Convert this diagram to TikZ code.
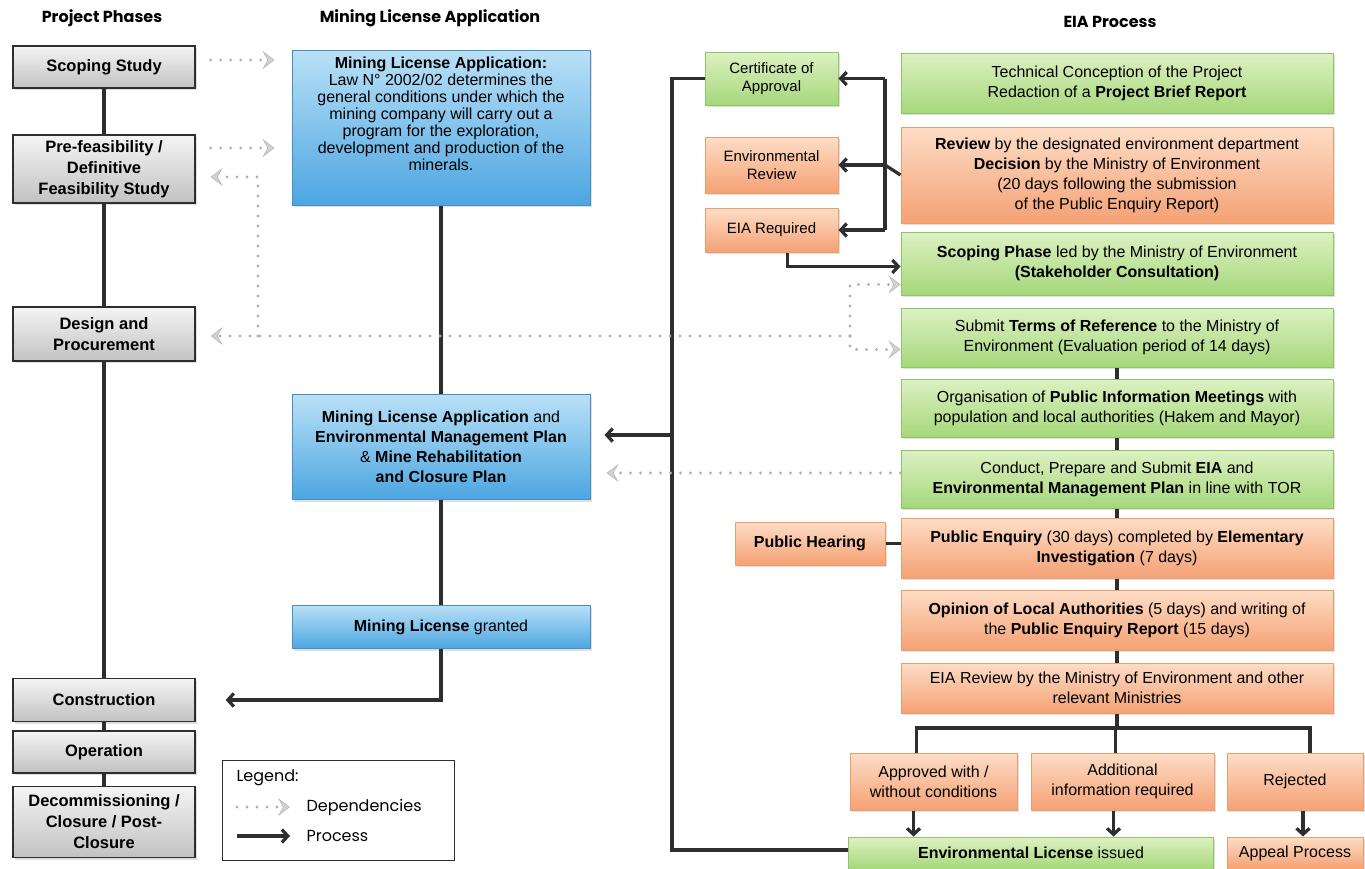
\documentclass[tikz,border=0pt]{standalone}
\usepackage{fontspec}
\setmainfont{Liberation Sans}
\newfontfamily\headfont{Poppins}
\usetikzlibrary{arrows.meta,shadows}
\definecolor{procgray}{HTML}{2E2E2E}
\definecolor{phasetop}{HTML}{F4F4F4}
\definecolor{phasebot}{HTML}{C2C2C2}
\definecolor{bluetop}{HTML}{B9E0F7}
\definecolor{bluebot}{HTML}{4CA6E1}
\definecolor{blueline}{HTML}{4A8FC4}
\definecolor{greentop}{HTML}{DDF1C2}
\definecolor{greenbot}{HTML}{A6D77B}
\definecolor{greenline}{HTML}{90C468}
\definecolor{orangetop}{HTML}{FDDDC6}
\definecolor{orangebot}{HTML}{F5A174}
\definecolor{orangeline}{HTML}{EE9E6E}
\tikzset{
  box/.style={rectangle, align=center, inner sep=2pt,
    font=\fontsize{16}{20}\selectfont,
    drop shadow={shadow xshift=1.5pt, shadow yshift=-2pt, opacity=0.25}},
  phase/.style={box, draw=procgray, line width=1.3pt, top color=phasetop,
    bottom color=phasebot, minimum width=182pt,
    font=\fontsize{16.5}{21}\selectfont\bfseries},
  mlabox/.style={box, draw=blueline, line width=1pt, top color=bluetop,
    bottom color=bluebot, minimum width=298pt},
  eiagreen/.style={box, draw=greenline, line width=1pt, top color=greentop,
    bottom color=greenbot},
  eiaorange/.style={box, draw=orangeline, line width=1pt, top color=orangetop,
    bottom color=orangebot},
  eiawide/.style={minimum width=432pt},
  sidebox/.style={minimum width=133pt, font=\fontsize{15}{18}\selectfont},
  header/.style={font=\headfont\bfseries\fontsize{16}{20}\selectfont},
  procline/.style={draw=procgray, line width=3.2pt},
  proc/.style={procline, -{Straight Barb[length=6pt,width=13pt]}},
  dep/.style={draw=gray!60, line width=3.2pt, line cap=round,
    dash pattern=on 0pt off 10pt,
    -{Stealth[length=12pt,width=18pt,inset=5pt,color=gray!55,fill=gray!35,line width=0.6pt]}},
}
\begin{document}
\begin{tikzpicture}[x=1pt,y=-1pt]
\useasboundingbox (0,0) rectangle (1365,868);
\node[header] at (102,18) {Project Phases};
\node[header] at (430,18) {Mining License Application};
\node[header] at (1110,22) {EIA Process};

% project phases
\node[phase, minimum height=42pt] (scoping) at (104,67) {Scoping Study};
\node[phase, minimum height=68pt] (prefeas) at (104,169) {Pre-feasibility /\\Definitive\\Feasibility Study};
\node[phase, minimum height=54pt] (design) at (104,334) {Design and\\Procurement};
\node[phase, minimum height=43pt] (constr) at (104,700) {Construction};
\node[phase, minimum height=42pt] (oper) at (104,752) {Operation};
\node[phase, minimum height=71pt] (decomm) at (104,822) {Decommissioning /\\Closure / Post-\\Closure};

% mining license
\node[mlabox, minimum height=155pt, font=\fontsize{16}{17}\selectfont] (mla) at (441,127.5)
  {\textbf{Mining License Application:}\\Law N° 2002/02 determines the\\general conditions under which the\\mining company will carry out a\\program for the exploration,\\development and production of the\\minerals.\\[6pt]\strut};
\node[mlabox, minimum height=105pt] (mlaemp) at (441,447)
  {\textbf{Mining License Application} and\\\textbf{Environmental Management Plan}\\\& \textbf{Mine Rehabilitation}\\\textbf{and Closure Plan}};
\node[mlabox, minimum height=43pt] (granted) at (441,627) {\textbf{Mining License} granted};

% EIA process
\node[eiagreen, eiawide, minimum height=60pt] (tech) at (1117,83)
  {Technical Conception of the Project\\Redaction of a \textbf{Project Brief Report}};
\node[eiaorange, eiawide, minimum height=96pt] (review) at (1117,175)
  {\textbf{Review} by the designated environment department\\\textbf{Decision} by the Ministry of Environment\\(20 days following the submission\\of the Public Enquiry Report)};
\node[eiagreen, eiawide, minimum height=63pt] (scopph) at (1117,263.5)
  {\textbf{Scoping Phase} led by the Ministry of Environment\\\textbf{(Stakeholder Consultation)}};
\node[eiagreen, eiawide, minimum height=59pt] (tor) at (1117,337.5)
  {Submit \textbf{Terms of Reference} to the Ministry of\\Environment (Evaluation period of 14 days)};
\node[eiagreen, eiawide, minimum height=58pt] (meet) at (1117,408)
  {Organisation of \textbf{Public Information Meetings} with\\population and local authorities (Hakem and Mayor)};
\node[eiagreen, eiawide, minimum height=58pt] (conduct) at (1117,479)
  {Conduct, Prepare and Submit \textbf{EIA} and\\\textbf{Environmental Management Plan} in line with TOR};
\node[eiaorange, eiawide, minimum height=60pt] (enquiry) at (1117,548)
  {\textbf{Public Enquiry} (30 days) completed by \textbf{Elementary}\\\textbf{Investigation} (7 days)};
\node[eiaorange, eiawide, minimum height=60pt] (opinion) at (1117,620)
  {\textbf{Opinion of Local Authorities} (5 days) and writing of\\the \textbf{Public Enquiry Report} (15 days)};
\node[eiaorange, eiawide, minimum height=50pt] (eiarev) at (1117,688)
  {EIA Review by the Ministry of Environment and other\\relevant Ministries};

\node[eiagreen, sidebox, minimum height=53pt] (cert) at (771.5,78.5) {Certificate of\\Approval};
\node[eiaorange, sidebox, minimum height=56pt] (envrev) at (771.5,165) {Environmental\\Review};
\node[eiaorange, sidebox, minimum height=44pt] (eiareq) at (771.5,230) {EIA Required};
\node[eiaorange, minimum width=150pt, minimum height=43pt] (hearing) at (810,543.5) {\textbf{Public Hearing}};

\node[eiaorange, minimum width=167pt, minimum height=57pt] (approved) at (933.5,781.5) {Approved with /\\without conditions};
\node[eiaorange, minimum width=183pt, minimum height=57pt] (addinfo) at (1122.5,781.5) {Additional\\information required};
\node[eiaorange, minimum width=136pt, minimum height=57pt] (rejected) at (1295,781.5) {Rejected};
\node[eiagreen, minimum width=365pt, minimum height=32pt] (envlic) at (1031,853) {\textbf{Environmental License} issued};
\node[eiaorange, minimum width=136pt, minimum height=32pt] (appeal) at (1295,853) {Appeal Process};

% process lines
\draw[procline] (scoping) -- (prefeas) -- (design) -- (constr) -- (oper) -- (decomm);
\draw[procline] (mla) -- (mlaemp) -- (granted);
\draw[proc, shorten >=30pt] (granted.south) |- (constr.east);
\draw[procline] (tor) -- (meet) -- (conduct) -- (enquiry) -- (opinion) -- (eiarev);
\draw[procline] (hearing.east) -- (hearing.east -| enquiry.west);

\coordinate (brx) at (885,0);
\draw[procline] (cert.east -| brx) -- (eiareq.east -| brx);
\draw[procline] (review.west) -- (envrev.east -| brx);
\draw[proc] (cert.east -| brx) -- (cert.east);
\draw[proc] (envrev.east -| brx) -- (envrev.east);
\draw[proc] (eiareq.east -| brx) -- (eiareq.east);
\draw[proc] ([xshift=16pt]eiareq.south) |- ([yshift=-3pt]scopph.west);

\coordinate (lpx) at (672,0);
\draw[procline] ([yshift=3pt]envlic.west) -- ([yshift=3pt]envlic.west -| lpx) -- (cert.west -| lpx) -- (cert.west);
\draw[proc, shorten >=14pt] ([yshift=12pt]mlaemp.east -| lpx) -- ([yshift=12pt]mlaemp.east);

\coordinate (brn) at (0,728);
\draw[procline] (eiarev.south) -- (eiarev.south |- brn);
\draw[procline] ([xshift=-17pt]approved.north) |- ([xshift=15pt]rejected.north |- brn) -- ([xshift=15pt]rejected.north);
\draw[procline] ([xshift=-7pt]addinfo.north |- brn) -- ([xshift=-7pt]addinfo.north);
\draw[proc] ([xshift=-20pt]approved.south) -- ([xshift=-20pt]approved.south |- envlic.north);
\draw[proc] ([xshift=-9pt]addinfo.south) -- ([xshift=-9pt]addinfo.south |- envlic.north);
\draw[proc] ([xshift=8pt]rejected.south) -- ([xshift=8pt]rejected.south |- appeal.north);

% dependencies
\draw[dep, shorten <=15pt, shorten >=17pt] ([yshift=7pt]scoping.east) -- ([yshift=7pt]scoping.east -| mla.west);
\draw[dep, shorten <=15pt, shorten >=17pt] ([yshift=21pt]prefeas.east) -- ([yshift=21pt]prefeas.east -| mla.west);
\coordinate (djx) at (850,0);
\coordinate (dvx) at (258,0);
\draw[dep, shorten >=15pt] ([yshift=-2pt]design.east -| djx) -- ([yshift=-2pt]design.east);
\draw[dep, shorten >=15pt] ([yshift=-2pt]design.east -| dvx) |- ([yshift=-8pt]prefeas.east);
\draw[dep] ([yshift=-2pt]design.east -| djx) |- ([yshift=-21pt]scopph.west);
\draw[dep] ([yshift=-2pt]design.east -| djx) |- ([yshift=-12pt]tor.west);
\draw[dep, shorten >=16pt] ([yshift=6pt]conduct.west) -- ([yshift=6pt]conduct.west -| mlaemp.east);

% legend
\node[draw=procgray, line width=1pt, minimum width=232pt, minimum height=100pt] (legend) at (338,810) {};
\node[anchor=west, font=\headfont\fontsize{16}{20}\selectfont] (legtitle) at (233,778) {Legend:};
\coordinate (depa) at (237,807);
\coordinate (depb) at (290,807);
\coordinate (proca) at (237,836);
\coordinate (procb) at (290,836);
\draw[dep] (depa) -- (depb);
\draw[proc] (proca) -- (procb);
\node[anchor=west, font=\headfont\fontsize{16}{20}\selectfont] (legdep) at (303,807) {Dependencies};
\node[anchor=west, font=\headfont\fontsize{16}{20}\selectfont] (legproc) at (303,836) {Process};
\end{tikzpicture}
\end{document}
